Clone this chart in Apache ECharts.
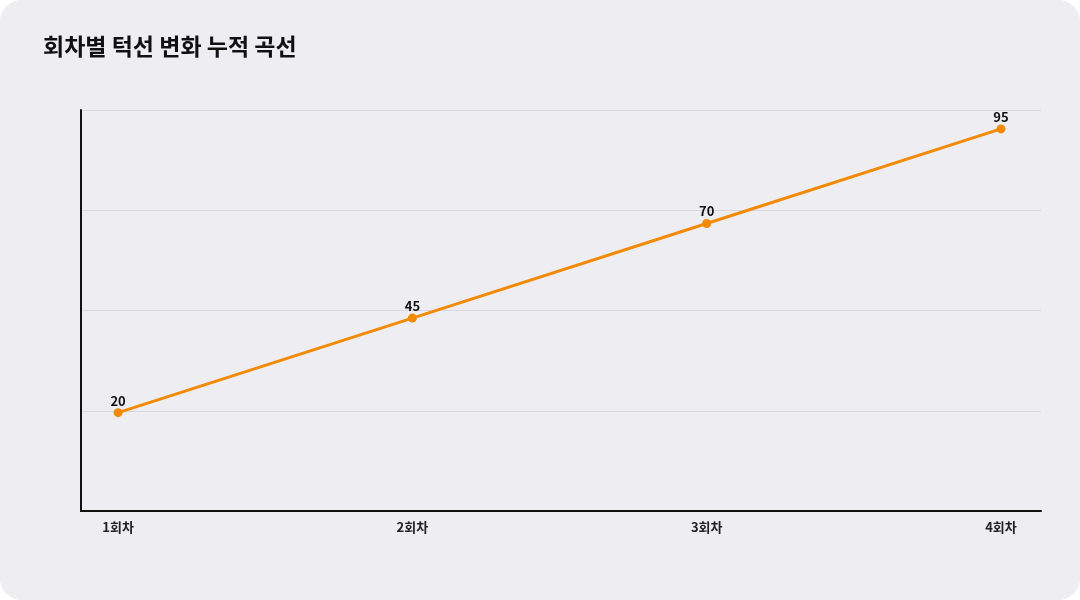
<!DOCTYPE html>
<html><head><meta charset="utf-8">
<script src="https://cdn.jsdelivr.net/npm/echarts@6/dist/echarts.min.js"></script>
<style>html,body{margin:0;background:#fff}#c{width:1080px;height:600px;background:#eeedf2;border-radius:22px;overflow:hidden}</style>
</head><body><div id="c"></div>
<script>
const categories = ['1회차','2회차','3회차','4회차'];
const values = [20,45,70,95];
const title = '회차별 턱선 변화 누적 곡선';
const chart = echarts.init(document.getElementById('c'));
const font = '"Noto Sans CJK KR", "Noto Sans", sans-serif';
chart.setOption({
  backgroundColor: '#eeedf2',
  title: {text: title, left: 38, top: 30, textStyle: {fontFamily: font, fontSize: 23, fontWeight: 'bold', color: '#111'}},
  grid: {left: 81, right: 39, top: 110, bottom: 89},
  xAxis: {type: 'value', min: -0.126, max: 3.136,
    axisLine: {show: true, onZero: false, lineStyle: {color: '#111', width: 2}},
    axisTick: {show: false}, splitLine: {show: false},
    axisLabel: {customValues: [0,1,2,3], formatter: v => categories[Math.round(v)], color: '#222', fontFamily: font, fontSize: 13, fontWeight: 'bold', margin: 10}},
  yAxis: [
    {type: 'value', min: -6, max: 100, axisLine: {show: true, onZero: false, lineStyle: {color: '#111', width: 2}}, axisLabel: {show: false}, axisTick: {show: false}, splitLine: {show: false}},
    {type: 'value', min: 0, max: 4, interval: 1, position: 'left', axisLine: {show: false}, axisLabel: {show: false}, axisTick: {show: false}, splitLine: {show: true, lineStyle: {color: '#d9d8de', width: 1}}}
  ],
  series: [{type: 'line', yAxisIndex: 0, data: values.map((v, i) => [i, v]),
    lineStyle: {color: '#f28a05', width: 3}, itemStyle: {color: '#f28a05'},
    symbol: 'circle', symbolSize: 9, z: 5,
    label: {show: true, position: 'top', distance: 1, color: '#111', fontFamily: font, fontSize: 13, fontWeight: 'bold'}}]
});
</script></body></html>
